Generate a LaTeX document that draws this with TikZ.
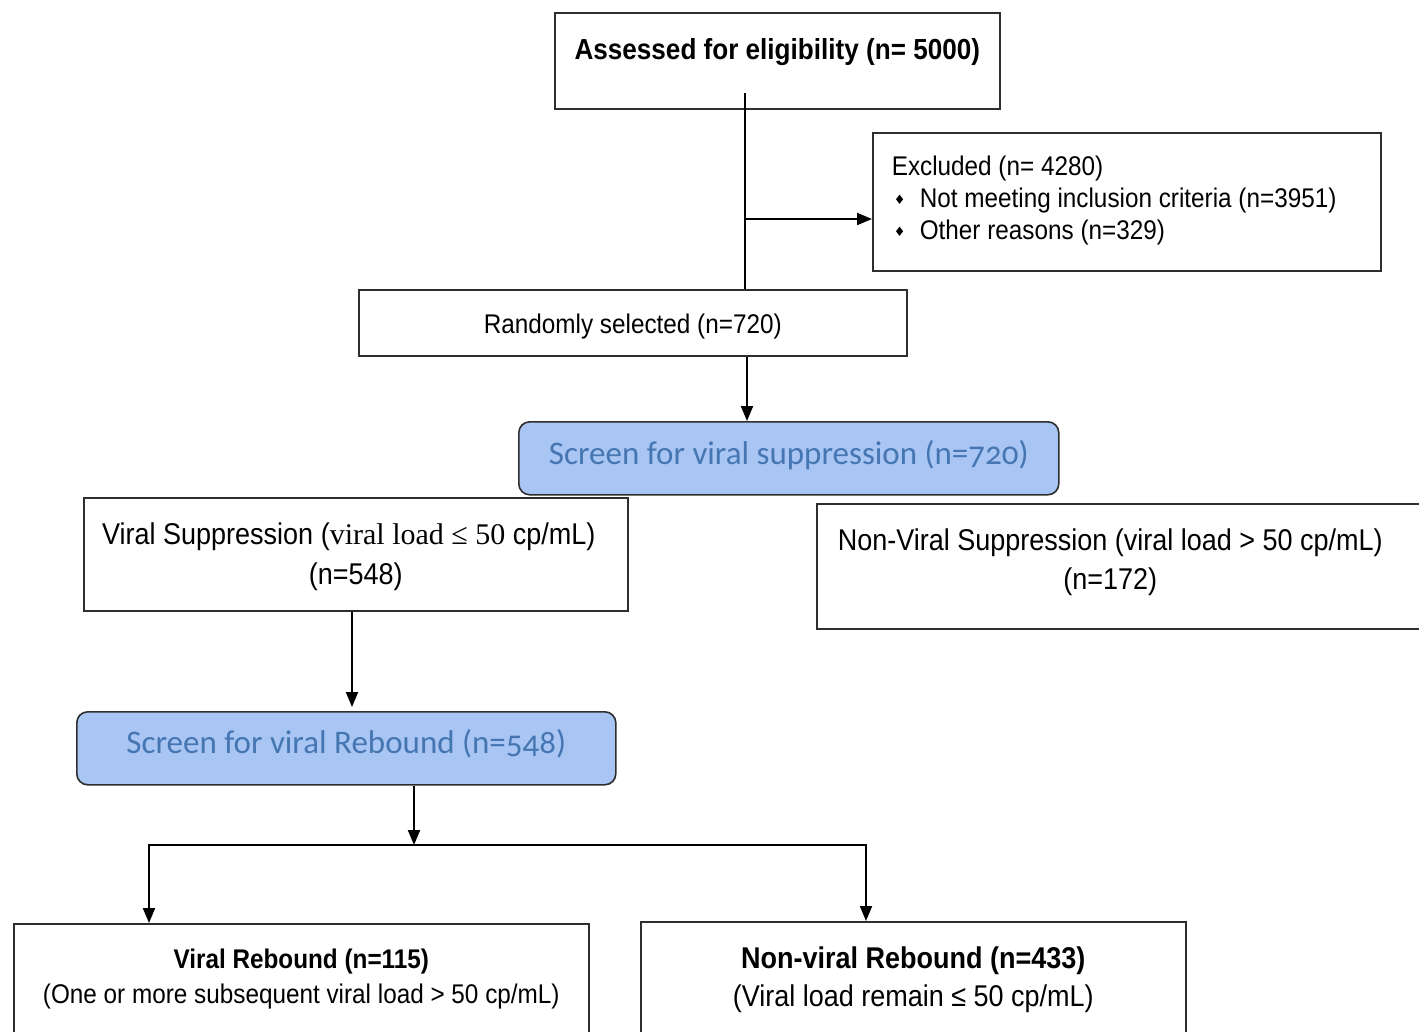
\documentclass[tikz,border=0pt]{standalone}
\usepackage{fontspec}
\setmainfont[FakeStretch=0.9]{Liberation Sans}
\newfontfamily\serf{Liberation Serif}
\newfontfamily\calb[Numbers=OldStyle]{Carlito}
\newfontfamily\dejav{DejaVu Sans}
\usetikzlibrary{arrows.meta,backgrounds}
\definecolor{scrfill}{HTML}{A8C5F4}
\definecolor{scrtext}{HTML}{4676B2}
\definecolor{edgecol}{HTML}{2E2E2E}
\newcommand{\fs}[2]{\fontsize{#1}{#2}\selectfont}
\newcommand{\pbx}[4]{\parbox[c][#2pt][t]{#1pt}{\centering\vspace*{#3pt}#4}}
\newcommand{\bul}{\makebox[26pt][l]{\raisebox{3pt}{\dejav\fs{13}{13}♦}}}
\tikzset{
  box/.style={draw=edgecol, line width=1.6pt, fill=white, inner sep=0pt, anchor=north west},
  scrbox/.style={draw=edgecol, line width=1.6pt, fill=scrfill, rounded corners=11pt, inner sep=0pt, anchor=north west, text=scrtext},
  conn/.style={line width=2pt, draw=black},
  tip/.tip={Triangle[length=15pt,width=12pt]},
  arr/.style={conn, -tip},
  arr2/.style={conn, tip-tip},
}
\begin{document}
\begin{tikzpicture}[x=1pt,y=-1pt]
\useasboundingbox (0,0) rectangle (1419,1032);
\fill[white] (0,0) rectangle (1419,1032);
\clip (0,0) rectangle (1419,1032);

% boxes
\node[box] (A) at (554,12) {\pbx{445}{96}{26}{\fs{29}{34}\bfseries Assessed for eligibility (n= 5000)}};
\node[box] (E) at (872,132) {\parbox[c][138pt][t]{508pt}{\raggedright\vspace*{23pt}\fs{27}{32}%
\hspace*{19pt}Excluded (n= 4280)\\
\hspace*{21pt}\bul Not meeting inclusion criteria (n=3951)\\
\hspace*{21pt}\bul Other reasons (n=329)}};
\node[box] (R) at (358,289) {\pbx{548}{66}{24}{\fs{27}{32}Randomly selected (n=720)}};
\node[scrbox] (S) at (518,421) {\pbx{540}{73}{19}{\calb\fs{33}{38}Screen for viral suppression (n=720)}};
\node[box] (VS) at (83,497) {\pbx{544}{113}{25}{\fs{30}{40}\hspace*{-14pt}Viral Suppression ({\serf viral load ≤ 50} cp/mL)\\(n=548)}};
\node[box] (NVS) at (816,503) {\pbx{609}{125}{25}{\fs{30}{39}\hspace*{-22pt}Non-Viral Suppression (viral load > 50 cp/mL)\\\hspace*{-22pt}(n=172)}};
\node[scrbox] (SR) at (76,711) {\pbx{539}{73}{18}{\calb\fs{33}{38}Screen for viral Rebound (n=548)}};
\node[box] (VR) at (13,923) {\pbx{575}{140}{25}{\fs{27}{35}\textbf{Viral Rebound (n=115)}\\(One or more subsequent viral load > 50 cp/mL)}};
\node[box] (NVR) at (640,921) {\pbx{545}{140}{25}{\fs{30}{38}\textbf{Non-viral Rebound (n=433)}\\(Viral load remain ≤ 50 cp/mL)}};

% connectors
\coordinate (a0) at (745,93);
\coordinate (a1) at (745,219);
\coordinate (xr) at (747,423);
\coordinate (sl) at (278,423);
\coordinate (sr) at (1168,423);
\coordinate (xv) at (352,600);
\coordinate (xs) at (414,845);
\coordinate (bl) at (149,845);
\coordinate (br) at (866,845);

\draw[conn] (a0) -- (a0 |- R.north);
\draw[arr] (a1) -- (a1 -| E.west);
\begin{pgfonlayer}{background}
\draw[arr2] (sl |- VS.north) -- (sl) -- (sr) -- ([yshift=5pt]sr |- NVS.north);
\end{pgfonlayer}
\draw[arr] (xr |- R.south) -- (xr |- S.north);
\draw[arr] (xv |- VS.south) -- ([yshift=4pt]xv |- SR.north);
\draw[arr] (xs |- SR.south) -- (xs);
\draw[arr2] (bl |- VR.north) -- (bl) -- (br) -- (br |- NVR.north);
\end{tikzpicture}
\end{document}
